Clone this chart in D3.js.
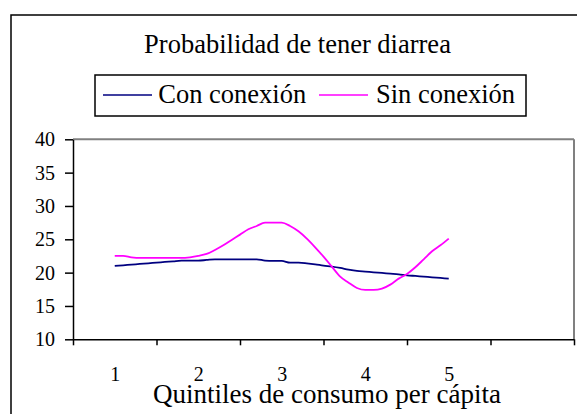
<!DOCTYPE html>
<html>
<head>
<meta charset="utf-8">
<script src="https://cdn.jsdelivr.net/npm/d3@7"></script>
<style>
  html, body { margin: 0; padding: 0; background: #fff; }
  svg { display: block; }
  text { font-family: "Liberation Serif", "Times New Roman", serif; fill: #000; }
</style>
</head>
<body>
<svg id="chart" width="577" height="414"></svg>
<script>
// ---- data ----
const titleText = "Probabilidad de tener diarrea";
const xAxisTitle = "Quintiles de consumo per cápita";
const seriesNames = ["Con conexión", "Sin conexión"];
const seriesColors = ["#000080", "#FF00FF"];
const xTickLabels = ["1", "2", "3", "4", "5"];
const xTickLabelPos = [1, 2, 3, 4, 5];
const xBoundaries = [0.5, 1.5, 2.5, 3.5, 4.5, 5.5, 6.5];
const yTicks = [10, 15, 20, 25, 30, 35, 40];
const quintilePos = [1.0,1.1,1.2,1.3,1.4,1.5,1.6,1.7,1.8,1.9,
                     2.0,2.1,2.2,2.3,2.4,2.5,2.6,2.7,2.8,2.9,
                     3.0,3.1,3.2,3.3,3.4,3.5,3.6,3.7,3.8,3.9,
                     4.0,4.1,4.2,4.3,4.4,4.5,4.6,4.7,4.8,4.9,5.0];
const conConexion = [21.0,21.1,21.2,21.3,21.4,21.5,21.6,21.7,21.8,21.8,
                     21.8,21.9,22.0,22.0,22.0,22.0,22.0,22.0,21.8,21.75,
                     21.75,21.5,21.5,21.4,21.25,21.05,20.9,20.7,20.45,20.25,
                     20.15,20.05,19.95,19.85,19.75,19.6,19.5,19.4,19.3,19.2,19.1];
const sinConexion = [22.5,22.5,22.3,22.2,22.2,22.2,22.2,22.2,22.2,22.3,
                     22.5,22.8,23.4,24.1,24.9,25.7,26.5,27.0,27.5,27.5,
                     27.5,27.0,26.2,25.1,23.8,22.4,20.9,19.4,18.5,17.7,
                     17.4,17.4,17.6,18.2,19.1,19.8,20.8,22.0,23.2,24.1,25.1];

// ---- layout ----
const svg = d3.select("#chart");
const plot = { left: 73, right: 574, top: 139.3, bottom: 339.3 };

const x = d3.scaleLinear().domain([0.5, 6.5]).range([plot.left, plot.right]);
const y = d3.scaleLinear().domain([10, 40]).range([plot.bottom, plot.top]);

// outer frame
svg.append("rect")
  .attr("x", 11).attr("y", 15).attr("width", 620).attr("height", 460)
  .attr("fill", "none").attr("stroke", "#000").attr("stroke-width", 1.5);

// title
svg.append("text")
  .attr("x", 297.5).attr("y", 53.3)
  .attr("text-anchor", "middle")
  .style("font-size", "26.5px")
  .text(titleText);

// legend
const legend = svg.append("g");
legend.append("rect")
  .attr("x", 95).attr("y", 75).attr("width", 431).attr("height", 41)
  .attr("fill", "#fff").attr("stroke", "#000").attr("stroke-width", 1.5);
const legendItems = [
  { lineX: 103, textX: 158.3 },
  { lineX: 319, textX: 376 }
];
seriesNames.forEach((name, i) => {
  legend.append("line")
    .attr("x1", legendItems[i].lineX).attr("x2", legendItems[i].lineX + 49)
    .attr("y1", 95).attr("y2", 95)
    .attr("stroke", seriesColors[i]).attr("stroke-width", 1.5);
  legend.append("text")
    .attr("x", legendItems[i].textX).attr("y", 103.3)
    .style("font-size", "26.5px")
    .text(name);
});

// plot frame (top & right in gray)
svg.append("line")
  .attr("x1", plot.left).attr("x2", plot.right)
  .attr("y1", plot.top).attr("y2", plot.top)
  .attr("stroke", "#808080").attr("stroke-width", 2);
svg.append("line")
  .attr("x1", plot.right).attr("x2", plot.right)
  .attr("y1", plot.top).attr("y2", plot.bottom)
  .attr("stroke", "#808080").attr("stroke-width", 2);

// y axis
const yAxis = svg.append("g")
  .attr("transform", `translate(${plot.left},0)`)
  .call(d3.axisLeft(y).tickValues(yTicks).tickSize(8).tickSizeOuter(0).tickPadding(10));
yAxis.selectAll("text").style("font-size", "20px").attr("fill", "#000")
  .style("font-family", "'Liberation Serif', serif");
yAxis.selectAll("line, path").attr("stroke", "#000").attr("stroke-width", 1.5);

// x axis (category boundaries)
const xAxis = svg.append("g")
  .attr("transform", `translate(0,${plot.bottom})`)
  .call(d3.axisBottom(x).tickValues(xBoundaries).tickSize(6).tickSizeOuter(0).tickFormat(""));
xAxis.selectAll("line, path").attr("stroke", "#000").attr("stroke-width", 1.5);

// x labels
const xLab = svg.append("g")
  .attr("transform", `translate(0,${plot.bottom})`)
  .call(d3.axisBottom(x).tickValues(xTickLabelPos).tickSize(0).tickPadding(28)
        .tickFormat((d, i) => xTickLabels[i]));
xLab.select(".domain").remove();
xLab.selectAll("text").style("font-size", "20px").attr("fill", "#000")
  .style("font-family", "'Liberation Serif', serif");

// x axis title
svg.append("text")
  .attr("x", 327).attr("y", 403.3)
  .attr("text-anchor", "middle")
  .style("font-size", "27px")
  .text(xAxisTitle);

// lines
const line = d3.line()
  .x(d => x(d[0]))
  .y(d => y(d[1]))
  .curve(d3.curveMonotoneX);

[conConexion, sinConexion].forEach((vals, i) => {
  svg.append("path")
    .datum(quintilePos.map((q, j) => [q, vals[j]]))
    .attr("d", line)
    .attr("fill", "none")
    .attr("stroke", seriesColors[i])
    .attr("stroke-width", 1.8);
});
</script>
</body>
</html>
